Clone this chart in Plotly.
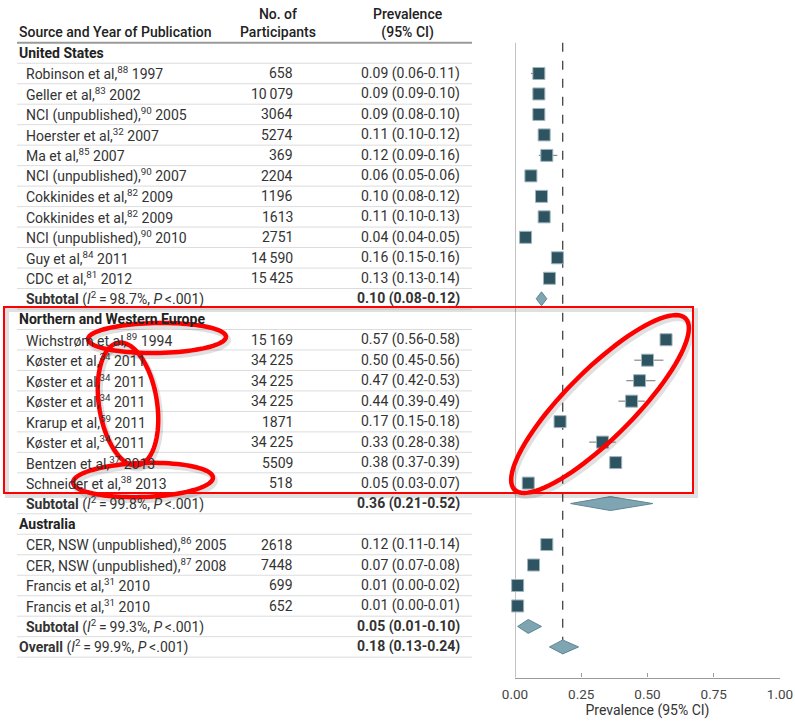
import math
import plotly.graph_objects as go

W, H = 795, 721

# ---------------- data ----------------
group_names = ["United States", "Northern and Western Europe", "Australia"]
study_group = [0] * 11 + [1] * 8 + [2] * 4
study_source = [
    "Robinson et al", "Geller et al", "NCI (unpublished)", "Hoerster et al", "Ma et al",
    "NCI (unpublished)", "Cokkinides et al", "Cokkinides et al", "NCI (unpublished)", "Guy et al",
    "CDC et al",
    "Wichstrøm et al", "Køster et al", "Køster et al", "Køster et al", "Krarup et al",
    "Køster et al", "Bentzen et al", "Schneider et al",
    "CER, NSW (unpublished)", "CER, NSW (unpublished)", "Francis et al", "Francis et al",
]
study_ref = [88, 83, 90, 32, 85, 90, 82, 82, 90, 84, 81,
             89, 34, 34, 34, 59, 34, 37, 38,
             86, 87, 31, 31]
study_year = [1997, 2002, 2005, 2007, 2007, 2007, 2009, 2009, 2010, 2011, 2012,
              1994, 2011, 2011, 2011, 2011, 2011, 2013, 2013,
              2005, 2008, 2010, 2010]
participants = [658, 10079, 3064, 5274, 369, 2204, 1196, 1613, 2751, 14590, 15425,
                15169, 34225, 34225, 34225, 1871, 34225, 5509, 518,
                2618, 7448, 699, 652]
prevalence = [0.09, 0.09, 0.09, 0.11, 0.12, 0.06, 0.10, 0.11, 0.04, 0.16, 0.13,
              0.57, 0.50, 0.47, 0.44, 0.17, 0.33, 0.38, 0.05,
              0.12, 0.07, 0.01, 0.01]
ci_low = [0.06, 0.09, 0.08, 0.10, 0.09, 0.05, 0.08, 0.10, 0.04, 0.15, 0.13,
          0.56, 0.45, 0.42, 0.39, 0.15, 0.28, 0.37, 0.03,
          0.11, 0.07, 0.00, 0.00]
ci_high = [0.11, 0.10, 0.10, 0.12, 0.16, 0.06, 0.12, 0.13, 0.05, 0.16, 0.14,
           0.58, 0.56, 0.53, 0.49, 0.18, 0.38, 0.39, 0.07,
           0.14, 0.08, 0.02, 0.01]
subtotal_i2 = [98.7, 99.8, 99.3]
subtotal_prev = [0.10, 0.36, 0.05]
subtotal_low = [0.08, 0.21, 0.01]
subtotal_high = [0.12, 0.52, 0.10]
overall_i2 = 99.9
overall_prev = 0.18
overall_low = 0.13
overall_high = 0.24
x_ticks = [0.0, 0.25, 0.50, 0.75, 1.00]

# ---------------- layout constants ----------------
FONT = "Roboto"
FS = 14
TXT = "#333333"
ROW0 = 53.0      # pixel centre of first row
ROW_H = 20.48    # pixel row height


def px(x):
    return x / W


def py(y):
    return 1 - y / H


def fmt_n(n):
    return f"{n:,}".replace(",", "\u2009") if n >= 10000 else str(n)


def fmt_ci(p, lo, hi):
    return f"{p:.2f} ({lo:.2f}-{hi:.2f})"


# ---------------- build rows ----------------
annotations = []
study_rows = []
sub_rows = []
row = 0


def add_text(text, x_px, r, anchor="left", bold=False, color=TXT, size=FS):
    annotations.append(dict(
        text=f"<b>{text}</b>" if bold else text,
        x=px(x_px), xref="paper", y=r, yref="y",
        xanchor=anchor, yanchor="middle", showarrow=False,
        font=dict(family=FONT, size=size, color=color),
    ))


for g, gname in enumerate(group_names):
    add_text(gname, 17, row, bold=True, color="#222222")
    row += 1
    for i in range(len(study_source)):
        if study_group[i] != g:
            continue
        label = f"{study_source[i]},<sup>{study_ref[i]}</sup> {study_year[i]}"
        add_text(label, 24, row)
        add_text(fmt_n(participants[i]), 295, row, anchor="right")
        add_text(fmt_ci(prevalence[i], ci_low[i], ci_high[i]), 462, row, anchor="right")
        study_rows.append(row)
        row += 1
    add_text(f"<b>Subtotal</b> (<i>I</i><sup>2</sup>\u2009=\u2009{subtotal_i2[g]}%, <i>P</i>\u2009<.001)", 24, row)
    add_text(fmt_ci(subtotal_prev[g], subtotal_low[g], subtotal_high[g]), 462, row,
             anchor="right", bold=True)
    sub_rows.append(row)
    row += 1

overall_row = row
add_text(f"<b>Overall</b> (<i>I</i><sup>2</sup>\u2009=\u2009{overall_i2}%, <i>P</i>\u2009<.001)", 17, overall_row)
add_text(fmt_ci(overall_prev, overall_low, overall_high), 462, overall_row, anchor="right", bold=True)
n_rows = row + 1

# headers
hdr_font = dict(family=FONT, size=FS, color="#222222", weight=500)
annotations.append(dict(text="Source and Year of Publication", x=px(17), xref="paper",
                        y=(32 - ROW0) / ROW_H, yref="y", xanchor="left", yanchor="middle",
                        showarrow=False, font=hdr_font))
annotations.append(dict(text="No. of<br>Participants", x=px(278), xref="paper",
                        y=(23 - ROW0) / ROW_H, yref="y", xanchor="center", yanchor="middle",
                        showarrow=False, font=hdr_font))
annotations.append(dict(text="Prevalence<br>(95% CI)", x=px(408), xref="paper",
                        y=(23 - ROW0) / ROW_H, yref="y", xanchor="center", yanchor="middle",
                        showarrow=False, font=hdr_font))

# ---------------- traces ----------------
fig = go.Figure()

# CI whiskers
wx, wy = [], []
for r, lo, hi in zip(study_rows, ci_low, ci_high):
    wx += [lo, hi, None]
    wy += [r, r, None]
fig.add_trace(go.Scatter(x=wx, y=wy, mode="lines", line=dict(color="#8a8a8a", width=1.2),
                         hoverinfo="skip", cliponaxis=False))

# study squares
fig.add_trace(go.Scatter(x=prevalence, y=study_rows, mode="markers",
                         marker=dict(symbol="square", size=12, color="#2e5462",
                                     line=dict(color="#9fb4bc", width=1)),
                         cliponaxis=False))

# diamonds (subtotals + overall)
HALF = 0.34
dx, dy = [], []
for r, p, lo, hi in zip(sub_rows + [overall_row],
                        subtotal_prev + [overall_prev],
                        subtotal_low + [overall_low],
                        subtotal_high + [overall_high]):
    dx += [lo, p, hi, p, lo, None]
    dy += [r, r - HALF, r, r + HALF, r, None]
fig.add_trace(go.Scatter(x=dx, y=dy, mode="lines", fill="toself", fillcolor="#80a5b2",
                         line=dict(color="#5f8694", width=1), hoverinfo="skip",
                         cliponaxis=False))

# ---------------- shapes ----------------
shapes = []
y_top = -0.5
y_axis_row = (677.5 - ROW0) / ROW_H

# table separators
shapes.append(dict(type="line", xref="paper", yref="y", x0=px(17), x1=px(472),
                   y0=-0.5, y1=-0.5, line=dict(color="#9a9a9a", width=2), layer="below"))
for r in range(n_rows):
    shapes.append(dict(type="line", xref="paper", yref="y", x0=px(17), x1=px(472),
                       y0=r + 0.5, y1=r + 0.5, line=dict(color="#dcdcdc", width=1),
                       layer="below"))

# zero line and overall reference line
shapes.append(dict(type="line", xref="x", yref="y", x0=0, x1=0, y0=y_top, y1=y_axis_row,
                   line=dict(color="#9a9a9a", width=1.2), layer="below"))
shapes.append(dict(type="line", xref="x", yref="y", x0=overall_prev, x1=overall_prev,
                   y0=y_top, y1=overall_row - HALF,
                   line=dict(color="#444444", width=1.3, dash="dash"), layer="below"))


# red highlight annotations (pixel geometry)
def ellipse_path(cx, cy, a, b, phi_deg, dxo=0, dyo=0, n=90):
    phi = math.radians(phi_deg)
    pts = []
    for k in range(n):
        t = 2 * math.pi * k / n
        ex = a * math.cos(t)
        ey = b * math.sin(t)
        x = cx + dxo + ex * math.cos(phi) - ey * math.sin(phi)
        y = cy + dyo + ex * math.sin(phi) + ey * math.cos(phi)
        pts.append(f"{px(x):.5f},{py(y):.5f}")
    return "M " + " L ".join(pts) + " Z"


def rect_path(x0, y0, x1, y1, dxo=0, dyo=0):
    return (f"M {px(x0+dxo):.5f},{py(y0+dyo):.5f} L {px(x1+dxo):.5f},{py(y0+dyo):.5f} "
            f"L {px(x1+dxo):.5f},{py(y1+dyo):.5f} L {px(x0+dxo):.5f},{py(y1+dyo):.5f} Z")


ellipses = [
    (157, 338, 69, 15, -1),
    (128, 404, 62, 29, 81),
    (143, 480, 70, 17, -2),
    (600, 404, 121, 34, -45),
]
# shadows
shapes.append(dict(type="path", xref="paper", yref="paper",
                   path=rect_path(4, 307, 693, 493, 3, 3),
                   line=dict(color="rgba(0,0,0,0.12)", width=4), layer="above"))
for cx, cy, a, b, ph in ellipses:
    shapes.append(dict(type="path", xref="paper", yref="paper",
                       path=ellipse_path(cx, cy, a, b, ph, 2, 3),
                       line=dict(color="rgba(0,0,0,0.12)", width=6), layer="above"))
shapes.append(dict(type="path", xref="paper", yref="paper",
                   path=rect_path(4, 307, 693, 493),
                   line=dict(color="#ff0000", width=2), layer="above"))
for cx, cy, a, b, ph in ellipses:
    shapes.append(dict(type="path", xref="paper", yref="paper",
                       path=ellipse_path(cx, cy, a, b, ph),
                       line=dict(color="#ff0000", width=4.5), layer="above"))

# ---------------- layout ----------------
fig.update_layout(
    width=W, height=H,
    margin=dict(l=0, r=0, t=0, b=0, pad=0),
    paper_bgcolor="white", plot_bgcolor="white",
    showlegend=False,
    font=dict(family=FONT, size=FS, color=TXT),
    xaxis=dict(domain=[px(515), px(780)], range=[0, 1], anchor="free",
               position=py(677.5), showgrid=False, zeroline=False,
               showline=True, linecolor="#9a9a9a", linewidth=1.2,
               ticks="inside", ticklen=4, tickcolor="#9a9a9a",
               tickvals=x_ticks, tickformat=".2f",
               tickfont=dict(family=FONT, size=13.5, color="#444444"),
               ticklabelstandoff=4,
               title=dict(text="Prevalence (95% CI)", standoff=4,
                          font=dict(family=FONT, size=14, color="#333333")),
               automargin=False, fixedrange=True),
    yaxis=dict(domain=[0, 1], range=[(H - ROW0) / ROW_H, (0 - ROW0) / ROW_H],
               visible=False, showgrid=False, zeroline=False, fixedrange=True),
    annotations=annotations,
    shapes=shapes,
)

fig.write_html(
    "out.html",
    config={"displayModeBar": False},
    post_script="document.body.style.margin='0';document.body.style.overflow='hidden';",
)
